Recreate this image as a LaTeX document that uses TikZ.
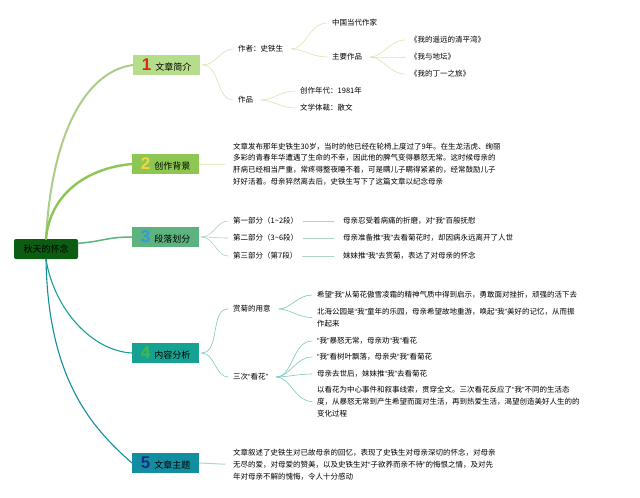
\documentclass[tikz,border=0pt]{standalone}
\usepackage{fontspec}
\setmainfont{Noto Sans CJK SC}
\newfontfamily\numfont{Liberation Sans}
\usepackage{tikz}
\usepackage{xcolor}
\definecolor{rootgreen}{HTML}{0C5C12}
\definecolor{topicA}{HTML}{B5DD8A}
\definecolor{topicB}{HTML}{8DC652}
\definecolor{topicC}{HTML}{5DB37F}
\definecolor{topicD}{HTML}{16A192}
\definecolor{topicE}{HTML}{138EA0}
\definecolor{numA}{HTML}{D42A1F}
\definecolor{numB}{HTML}{F5D63D}
\definecolor{numC}{HTML}{2E9BDB}
\definecolor{numD}{HTML}{3DBB4C}
\definecolor{numE}{HTML}{1B2F86}
\definecolor{lineA}{HTML}{D5E6B5}
\definecolor{lineB}{HTML}{E5EDC4}
\definecolor{lineC}{HTML}{A9D6BF}
\definecolor{lineD}{HTML}{7CC9BE}
\definecolor{lineE}{HTML}{AED6D9}
\newcommand{\topicnum}[2]{{\numfont\bfseries\fontsize{17}{17}\selectfont\color{#1}#2}\hspace{4pt}}
\newcommand{\qt}[1]{{\numfont“}#1{\numfont”}}

\begin{document}
\begin{tikzpicture}[x=1pt,y=-1pt,font=\fontsize{7.5}{11.7}\selectfont,line cap=round,
  rootbox/.style={fill=rootgreen,rounded corners=2pt,minimum width=64,minimum height=20,inner sep=0pt,font=\fontsize{9}{9}\selectfont},
  topicbox/.style={anchor=west,minimum width=67,minimum height=20,inner sep=0pt,font=\fontsize{9}{9}\selectfont},
  subtext/.style={anchor=west,inner sep=2pt},
  paratext/.style={anchor=west,inner sep=2pt,align=left},
  sublink/.style={line width=0.6pt,shorten <=2pt,shorten >=3pt}]
\fill[white] (0,0) rectangle (640,498);
\useasboundingbox (0,0) rectangle (640,498);
% main topics
\node[rootbox] (root) at (46,249) {秋天的怀念};
\node[topicbox,fill=topicA] (b1) at (133,65) {\topicnum{numA}{1}文章简介};
\node[topicbox,fill=topicB] (b2) at (132,164) {\topicnum{numB}{2}创作背景};
\node[topicbox,fill=topicC] (b3) at (132,237) {\topicnum{numC}{3}段落划分};
\node[topicbox,fill=topicD] (b4) at (132,353) {\topicnum{numD}{4}内容分析};
\node[topicbox,fill=topicE] (b5) at (132,463) {\topicnum{numE}{5}文章主题};
\draw[topicA!90!black!90,line width=2pt] (root.north) .. controls +(6,-110) and +(-45,6) .. (b1.west);
\draw[topicB,line width=2.4pt] (root.north) .. controls +(4,-45) and +(-45,4) .. (b2.west);
\draw[topicC,line width=1.5pt] (root.10) .. controls +(25,-2) and +(-25,0) .. (b3.west);
\draw[topicD,line width=1.1pt] (root.south) .. controls +(8,50) and +(-40,-2) .. (b4.west);
\draw[topicE,line width=1.1pt] (root.south) .. controls +(2,120) and +(-40,-35) .. (b5.west);
% 1
\node[subtext] (a1) at (236,49) {作者：史铁生};
\node[subtext] (a2) at (236,100) {作品};
\node[subtext] (a11) at (330,23) {中国当代作家};
\node[subtext] (a12) at (330,57) {主要作品};
\node[subtext] (w1) at (408,40) {《我的遥远的清平湾》};
\node[subtext] (w2) at (408,57) {《我与地坛》};
\node[subtext] (w3) at (408,74) {《我的丁一之旅》};
\node[subtext] (a21) at (298,91) {创作年代：1981年};
\node[subtext] (a22) at (298,108) {文学体裁：散文};
\draw[lineA,sublink] (b1.east) to[out=0,in=180] (a1.west);
\draw[lineA,sublink] (b1.east) to[out=0,in=180] (a2.west);
\draw[lineA,sublink,shorten <=6pt] (a1.east) to[out=0,in=180] (a11.west);
\draw[lineA,sublink,shorten <=6pt] (a1.east) to[out=0,in=180] (a12.west);
\draw[lineA,sublink,shorten <=6pt] (a12.east) to[out=0,in=180] (w1.west);
\draw[lineA,sublink,shorten <=6pt] (a12.east) to[out=0,in=180] (w2.west);
\draw[lineA,sublink,shorten <=6pt] (a12.east) to[out=0,in=180] (w3.west);
\draw[lineA,sublink,shorten <=6pt] (a2.east) to[out=0,in=180] (a21.west);
\draw[lineA,sublink,shorten <=6pt] (a2.east) to[out=0,in=180] (a22.west);
% 2
\node[paratext] (p2) at (231,164) {文章发布那年史铁生30岁，当时的他已经在轮椅上度过了9年。在生龙活虎、绚丽\\多彩的青春年华遭遇了生命的不幸，因此他的脾气变得暴怒无常。这时候母亲的\\肝病已经相当严重，常疼得整夜睡不着，可是瞒儿子瞒得紧紧的，经常鼓励儿子\\好好活着。母亲猝然离去后，史铁生写下了这篇文章以纪念母亲};
\draw[lineB,line width=1pt,shorten >=6pt] (b2.east) -- (p2.west);
% 3
\node[subtext] (c31) at (231,221) {第一部分（1\textasciitilde2段）};
\node[subtext] (c32) at (231,238) {第二部分（3\textasciitilde6段）};
\node[subtext] (c33) at (231,256) {第三部分（第7段）};
\node[subtext] (l31) at (341,221) {母亲忍受着病痛的折磨，对\qt{我}百般抚慰};
\node[subtext] (l32) at (341,238) {母亲准备推\qt{我}去看菊花时，却因病永远离开了人世};
\node[subtext] (l33) at (341,256) {妹妹推\qt{我}去赏菊，表达了对母亲的怀念};
\draw[lineC,sublink] (b3.east) to[out=0,in=180] (c31.west);
\draw[lineC,sublink] (b3.east) to[out=0,in=180] (c32.west);
\draw[lineC,sublink] (b3.east) to[out=0,in=180] (c33.west);
\draw[lineC,line width=0.8pt,shorten <=3pt,shorten >=7pt] (c31.east) -- (l31.west);
\draw[lineC,line width=0.8pt,shorten <=3pt,shorten >=7pt] (c32.east) -- (l32.west);
\draw[lineC,line width=0.8pt,shorten <=3pt,shorten >=7pt] (c33.east) -- (l33.west);
% 4
\node[subtext] (c41) at (231,309) {赏菊的用意};
\node[subtext] (c42) at (231,377) {三次\qt{看花}};
\node[subtext] (l41) at (315,295) {希望\qt{我}从菊花傲雪凌霜的精神气质中得到启示，勇敢面对挫折，顽强的活下去};
\node[paratext] (l42) at (315,317.5) {北海公园是\qt{我}童年的乐园，母亲希望故地重游，唤起\qt{我}美好的记忆，从而振\\作起来};
\node[subtext] (l43) at (315,341) {\qt{我}暴怒无常，母亲劝\qt{我}看花};
\node[subtext] (l44) at (315,357) {\qt{我}看树叶飘落，母亲央\qt{我}看菊花};
\node[subtext] (l45) at (315,374) {母亲去世后，妹妹推\qt{我}去看菊花};
\node[paratext] (l46) at (315,401.5) {以看花为中心事件和叙事线索，贯穿全文。三次看花反应了\qt{我}不同的生活态\\度，从暴怒无常到产生希望而面对生活，再到热爱生活，渴望创造美好人生的的\\变化过程};
\draw[lineD,sublink] (b4.east) to[out=0,in=180] (c41.west);
\draw[lineD,sublink] (b4.east) to[out=0,in=180] (c42.west);
\draw[lineD,sublink,shorten <=6pt] (c41.east) to[out=0,in=180] (l41.west);
\draw[lineD,sublink,shorten <=6pt] (c41.east) to[out=0,in=180] (l42.west);
\draw[lineD,sublink,shorten <=6pt] (c42.east) to[out=0,in=180] (l43.west);
\draw[lineD,sublink,shorten <=6pt] (c42.east) to[out=0,in=180] (l44.west);
\draw[lineD,sublink,shorten <=6pt] (c42.east) to[out=0,in=180] (l45.west);
\draw[lineD,sublink,shorten <=6pt] (c42.east) to[out=0,in=180] (l46.west);
% 5
\node[paratext] (p5) at (231,464.5) {文章叙述了史铁生对已故母亲的回忆，表现了史铁生对母亲深切的怀念，对母亲\\无尽的爱，对母爱的赞美，以及史铁生对\qt{子欲养而亲不待}的悔恨之情，及对先\\年对母亲不解的愧悔，令人十分感动};
\draw[lineE,line width=1pt,shorten >=6pt] (b5.east) -- (p5.west);
\end{tikzpicture}
\end{document}
